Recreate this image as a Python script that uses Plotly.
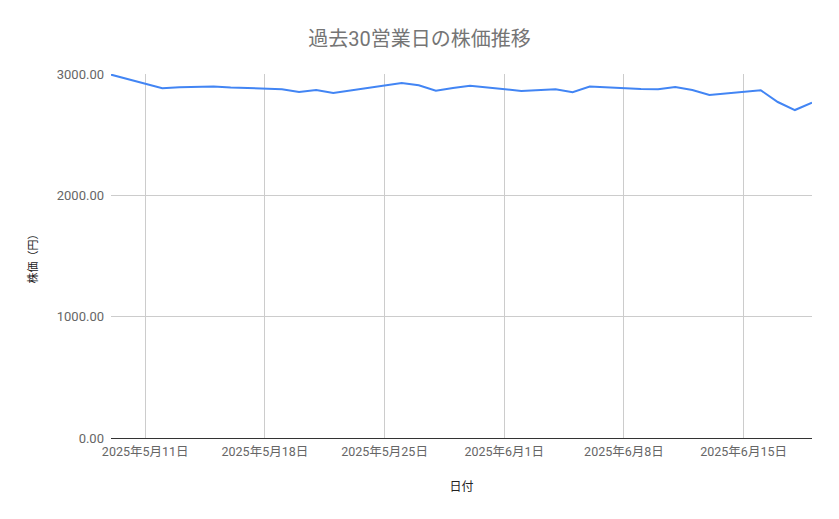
import plotly.graph_objects as go

# 営業日 (5/9 - 6/19)
dates = [
    "2025-05-09",
    "2025-05-12", "2025-05-13", "2025-05-14", "2025-05-15", "2025-05-16",
    "2025-05-19", "2025-05-20", "2025-05-21", "2025-05-22", "2025-05-23",
    "2025-05-26", "2025-05-27", "2025-05-28", "2025-05-29", "2025-05-30",
    "2025-06-02", "2025-06-03", "2025-06-04", "2025-06-05", "2025-06-06",
    "2025-06-09", "2025-06-10", "2025-06-11", "2025-06-12", "2025-06-13",
    "2025-06-16", "2025-06-17", "2025-06-18", "2025-06-19",
]
prices = [
    2995,
    2882, 2890, 2895, 2898, 2889,
    2874, 2852, 2868, 2843, 2865,
    2926, 2907, 2862, 2885, 2904,
    2860, 2866, 2874, 2849, 2896,
    2876, 2874, 2893, 2868, 2827,
    2866, 2769, 2703, 2764,
]
y_ticks = [0, 1000, 2000, 3000]

font_family = "Roboto, 'Noto Sans CJK JP', sans-serif"

fig = go.Figure()
fig.add_trace(go.Scatter(
    x=dates, y=prices, mode="lines",
    line=dict(color="#4285F4", width=2),
    hoverinfo="x+y",
))

# page body has an 8px margin, so margins are shifted to compensate
fig.update_layout(
    width=839, height=519,
    margin=dict(l=103, r=35, t=66, b=89),
    paper_bgcolor="white", plot_bgcolor="white",
    font=dict(family=font_family, size=11, color="#666666"),
    title=dict(text="過去30営業日の株価推移", x=0.4905, xanchor="center",
               y=1 - 31 / 519, yanchor="middle",
               font=dict(size=20, color="#757575")),
    showlegend=False,
)
fig.update_xaxes(
    range=[dates[0], dates[-1]],
    tick0="2025-05-11", dtick=7 * 86400000,
    tickformat="%Y年%-m月%-d日",
    showgrid=True, gridcolor="#cccccc", gridwidth=1,
    showline=False, zeroline=False,
    ticks="", ticklabelstandoff=4,
    tickfont=dict(size=12.5, color="#666666"),
    title=dict(text="日付", standoff=25, font=dict(size=12, color="#222222")),
)
fig.update_yaxes(
    range=[0, 3000],
    tickvals=y_ticks, tickformat=".2f",
    showgrid=True, gridcolor="#cccccc", gridwidth=1,
    zeroline=True, zerolinecolor="#333333", zerolinewidth=1,
    showline=False, ticks="", ticklabelstandoff=6,
    tickfont=dict(size=13, color="#666666"),
    title=dict(text="株価（円）", standoff=16, font=dict(size=11, color="#222222")),
)

fig.write_html("out.html")
